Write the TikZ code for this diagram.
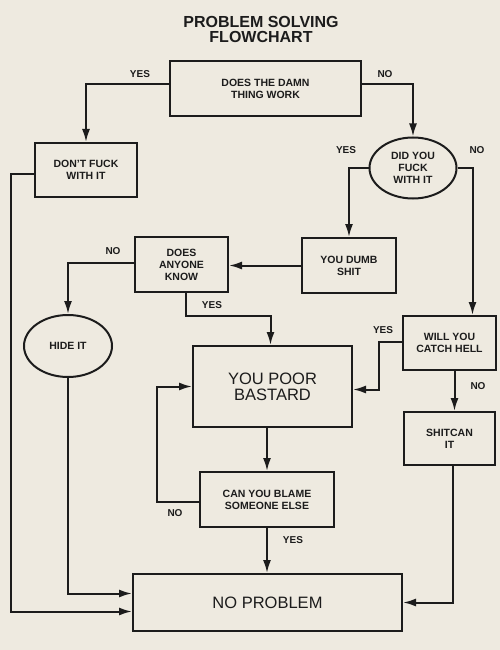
\documentclass[tikz,border=0pt]{standalone}
\usepackage{fontspec}
\setmainfont{Liberation Sans}
\usetikzlibrary{arrows.meta,shapes.geometric}
\definecolor{paper}{HTML}{EEEAE0}
\definecolor{ink}{HTML}{1C1C1C}

\begin{document}
\begin{tikzpicture}[x=1pt,y=-1pt]
\tikzset{block/.style = {shape=rectangle,draw=ink,text=ink,line width=2pt,inner sep=0pt,align=center,font=\bfseries\fontsize{10.5}{12}\selectfont}}
\tikzset{oval/.style = {block,shape=ellipse}}
\tikzset{bigblock/.style = {block,font=\fontsize{16.5}{16}\selectfont}}
\tikzset{edge/.style = {->,> = {Latex[length=13pt,width=8pt]},draw=ink,line width=2pt}}
\tikzset{answer/.style = {text=ink,inner sep=0pt,font=\bfseries\fontsize{10}{10}\selectfont}}
\fill[paper] (0,0) rectangle (500,650);
\useasboundingbox (0,0) rectangle (500,650);
% title
\node[text=ink,align=center,font=\bfseries\fontsize{16}{15}\selectfont] (title) at (261,29) {PROBLEM SOLVING\\FLOWCHART};
% boxes
\node[block,minimum width=191pt,minimum height=55pt] (work) at (265.5,88.5) {DOES THE DAMN\\THING WORK};
\node[block,minimum width=102pt,minimum height=54pt] (dont) at (86,170) {DON'T FUCK\\WITH IT};
\node[oval,minimum width=87pt,minimum height=61pt] (fuck) at (413,168) {DID YOU\\FUCK\\WITH IT};
\node[block,minimum width=94pt,minimum height=55pt] (dumb) at (349,265.5) {YOU DUMB\\SHIT};
\node[block,minimum width=93pt,minimum height=55pt] (know) at (181.5,264.5) {DOES\\ANYONE\\KNOW};
\node[oval,minimum width=88pt,minimum height=62pt] (hide) at (68,346) {HIDE IT};
\node[bigblock,minimum width=159pt,minimum height=81pt] (poor) at (272.5,386.5) {YOU POOR\\BASTARD};
\node[block,minimum width=93pt,minimum height=54pt] (hell) at (449.5,343) {WILL YOU\\CATCH HELL};
\node[block,minimum width=91pt,minimum height=53pt] (shitcan) at (449.5,438.5) {SHITCAN\\IT};
\node[block,minimum width=134pt,minimum height=55pt] (blame) at (267,499.5) {CAN YOU BLAME\\SOMEONE ELSE};
\node[bigblock,minimum width=269pt,minimum height=57pt] (noprob) at (267.5,602.5) {NO PROBLEM};
% answers
\node[answer] (yesWork) at (140,74) {YES};
\node[answer] (noWork) at (385,74) {NO};
\node[answer] (yesFuck) at (346,150) {YES};
\node[answer] (noFuck) at (477,150) {NO};
\node[answer] (noKnow) at (113,251) {NO};
\node[answer] (yesKnow) at (212,305) {YES};
\node[answer] (yesHell) at (383,330) {YES};
\node[answer] (noHell) at (478,386) {NO};
\node[answer] (noBlame) at (175,513) {NO};
\node[answer] (yesBlame) at (293,540) {YES};
%edges
\draw[edge] ([yshift=4pt]work.west) -| (dont.north);
\draw[edge] ([yshift=4pt]work.east) -| (fuck.north);
\draw[edge] (fuck.west) -| (dumb.north);
\draw[edge] (fuck.east) -| ([xshift=23pt]hell.north);
\draw[edge] (dumb.west) -- (dumb.west -| know.east);
\draw[edge] ([yshift=2pt]know.west) -| (hide.north);
\draw[edge] ([xshift=4pt]know.south) -- ++(0,23) -| ([xshift=-2pt]poor.north);
\draw[edge] ([yshift=1pt]hell.west) -- ++(-23,0) |- ([yshift=-3pt]poor.east);
\draw[edge] ([xshift=5pt]hell.south) -- ([xshift=5pt]shitcan.north);
\draw[edge] ([xshift=3pt]shitcan.south) |- (noprob.east);
\draw[edge] (poor.south -| blame.north) -- (blame.north);
\draw[edge] ([yshift=-2pt]blame.west) -- ++(-42,0) |- (poor.west);
\draw[edge] (blame.south) -- (blame.south |- noprob.north);
\draw[edge] (hide.south) |- ([yshift=9pt]noprob.west);
\draw[edge] ([yshift=-4pt]dont.west) -- ++(-23,0) |- ([yshift=-9pt]noprob.west);

\end{tikzpicture}
\end{document}
